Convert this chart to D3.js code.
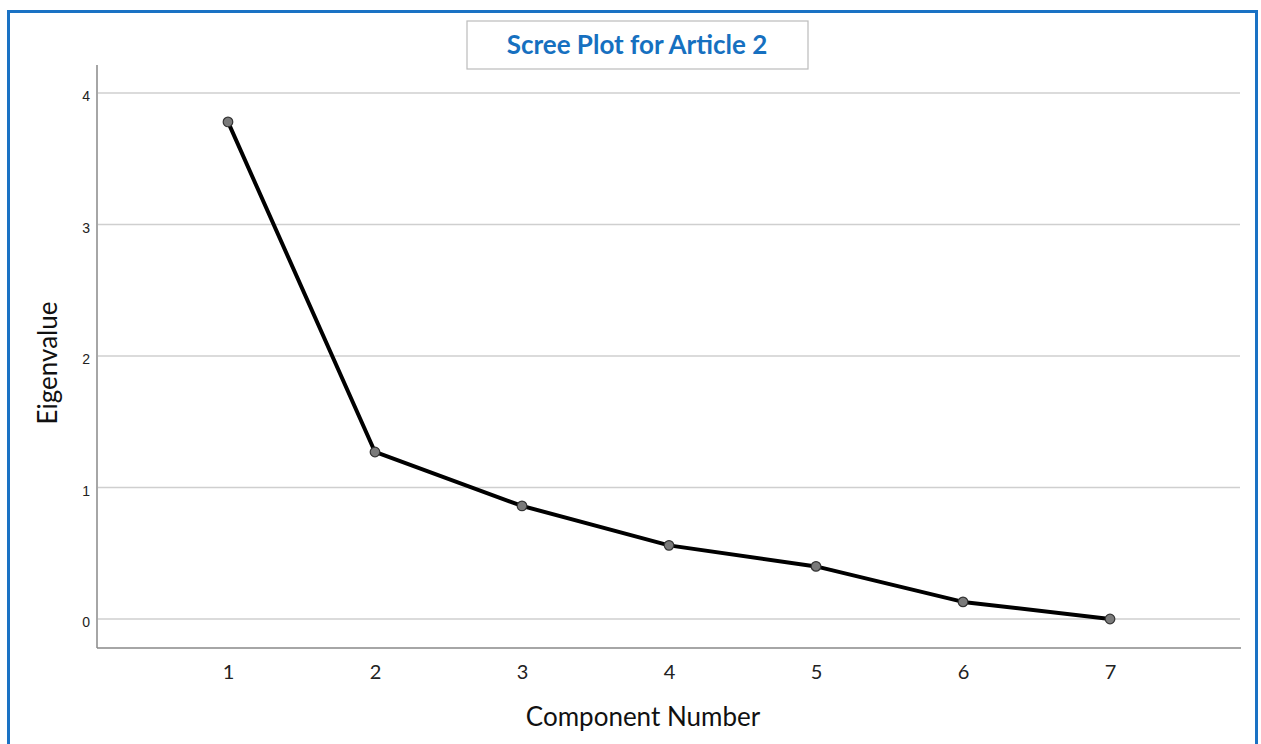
<!DOCTYPE html>
<html>
<head>
<meta charset="utf-8">
<script src="https://cdn.jsdelivr.net/npm/d3@7"></script>
<style>
  html, body { margin: 0; padding: 0; background: #fff; }
  svg { display: block; }
</style>
</head>
<body>
<svg id="chart" width="1261" height="744"></svg>
<script>
const title = "Scree Plot for Article 2";
const xLabel = "Component Number";
const yLabel = "Eigenvalue";
const components = [1, 2, 3, 4, 5, 6, 7];
const eigenvalues = [3.78, 1.27, 0.86, 0.56, 0.40, 0.13, 0.00];
const yTicks = [0, 1, 2, 3, 4];

const svg = d3.select("#chart");
const labelFont = "Lato, 'Open Sans', sans-serif";

// outer blue frame
svg.append("rect")
  .attr("x", 8.5).attr("y", 11.5)
  .attr("width", 1248).attr("height", 760)
  .attr("fill", "none").attr("stroke", "#1a72c4").attr("stroke-width", 3);

const plot = { left: 97, right: 1241, top: 65, bottom: 648 };

const x = d3.scaleLinear().domain([0.109, 7.891]).range([plot.left, plot.right]);
const y = d3.scaleLinear().domain([0, 4]).range([619, 93]);

// gridlines
svg.append("g")
  .selectAll("line")
  .data(yTicks)
  .join("line")
  .attr("x1", plot.left + 1).attr("x2", plot.right - 1)
  .attr("y1", d => y(d)).attr("y2", d => y(d))
  .attr("stroke", "#cfcfcf").attr("stroke-width", 1.5);

// y axis
const yAxis = d3.axisLeft(y).tickValues(yTicks).tickSize(0).tickPadding(7).tickFormat(d3.format("d"));
const gy = svg.append("g").attr("transform", `translate(${plot.left},0)`).call(yAxis);
gy.select(".domain").remove();
gy.selectAll("text")
  .attr("font-family", "'Liberation Sans', Arial, sans-serif")
  .attr("font-size", 14).attr("fill", "#222").attr("dy", "0.55em");
svg.append("line")
  .attr("x1", plot.left).attr("x2", plot.left)
  .attr("y1", plot.top).attr("y2", plot.bottom)
  .attr("stroke", "#888").attr("stroke-width", 1.5);

// x axis
const xAxis = d3.axisBottom(x).tickValues(components).tickSize(0).tickPadding(17).tickFormat(d3.format("d"));
const gx = svg.append("g").attr("transform", `translate(0,${plot.bottom})`).call(xAxis);
gx.select(".domain").remove();
gx.selectAll("text").attr("font-family", labelFont).attr("font-size", 20).attr("fill", "#222");
svg.append("line")
  .attr("x1", plot.left).attr("x2", plot.right)
  .attr("y1", plot.bottom).attr("y2", plot.bottom)
  .attr("stroke", "#888").attr("stroke-width", 1.5);

// line
const data = components.map((c, i) => ({ c, v: eigenvalues[i] }));
svg.append("path")
  .datum(data)
  .attr("fill", "none")
  .attr("stroke", "#000")
  .attr("stroke-width", 4)
  .attr("stroke-linejoin", "round")
  .attr("d", d3.line().x(d => x(d.c)).y(d => y(d.v)));

svg.append("g")
  .selectAll("circle")
  .data(data)
  .join("circle")
  .attr("cx", d => x(d.c)).attr("cy", d => y(d.v))
  .attr("r", 4.8)
  .attr("fill", "#7a7a7a").attr("stroke", "#333").attr("stroke-width", 1.2);

// axis titles
svg.append("text")
  .attr("x", 643).attr("y", 726)
  .attr("text-anchor", "middle")
  .attr("font-family", labelFont).attr("font-size", 26).attr("fill", "#111")
  .text(xLabel);

svg.append("text")
  .attr("transform", "translate(57,363) rotate(-90)")
  .attr("text-anchor", "middle")
  .attr("font-family", labelFont).attr("font-size", 26).attr("fill", "#111")
  .text(yLabel);

// title box
svg.append("rect")
  .attr("x", 467).attr("y", 21).attr("width", 341).attr("height", 48)
  .attr("fill", "#fff").attr("stroke", "#bbbbbb").attr("stroke-width", 1.2);
svg.append("text")
  .attr("x", 637).attr("y", 54)
  .attr("text-anchor", "middle")
  .attr("font-family", labelFont).attr("font-weight", "bold").attr("font-size", 26)
  .attr("fill", "#1670c0")
  .text(title);
</script>
</body>
</html>
